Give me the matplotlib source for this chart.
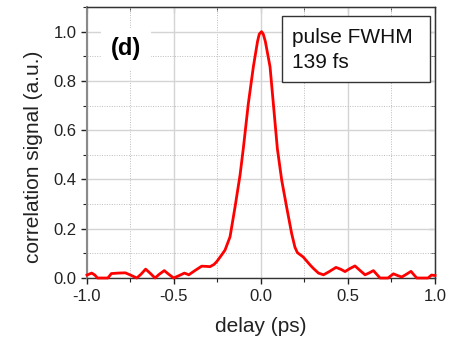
import matplotlib
matplotlib.use('Agg')
import matplotlib.pyplot as plt
from matplotlib.patches import Rectangle
from matplotlib.ticker import MultipleLocator

plt.rcParams['font.family'] = ['Liberation Sans', 'DejaVu Sans']

# autocorrelation trace, delay in ps
delay = [-1.0, -0.973, -0.955, -0.94, -0.88, -0.86, -0.82, -0.78, -0.75, -0.714,
         -0.69, -0.663, -0.635, -0.609, -0.585, -0.556, -0.53, -0.502, -0.47, -0.44,
         -0.415, -0.38, -0.341, -0.31, -0.293, -0.27, -0.255, -0.236, -0.207, -0.178,
         -0.149, -0.12, -0.101, -0.073, -0.044, -0.02, -0.01, 0.003, 0.013, 0.025,
         0.052, 0.071, 0.094, 0.119, 0.147, 0.176, 0.195, 0.209, 0.243, 0.282,
         0.301, 0.33, 0.359, 0.39, 0.431, 0.46, 0.483, 0.51, 0.54, 0.57,
         0.598, 0.62, 0.646, 0.665, 0.684, 0.73, 0.761, 0.785, 0.809, 0.835,
         0.862, 0.88, 0.895, 0.96, 0.98, 1.0]
signal = [0.012, 0.02, 0.012, 0.0, 0.0, 0.018, 0.02, 0.021, 0.012, 0.0,
          0.015, 0.036, 0.018, 0.0, 0.015, 0.03, 0.015, 0.0, 0.01, 0.02,
          0.013, 0.03, 0.048, 0.047, 0.046, 0.055, 0.066, 0.084, 0.113, 0.167,
          0.289, 0.42, 0.53, 0.707, 0.857, 0.96, 0.99, 1.0, 0.99, 0.96,
          0.857, 0.707, 0.525, 0.397, 0.289, 0.181, 0.125, 0.103, 0.085, 0.053,
          0.039, 0.02, 0.013, 0.025, 0.043, 0.035, 0.026, 0.038, 0.049, 0.03,
          0.013, 0.02, 0.03, 0.015, 0.0, 0.0, 0.017, 0.01, 0.004, 0.015,
          0.027, 0.012, 0.0, 0.0, 0.012, 0.01]

W, H = 452, 338
fig = plt.figure(figsize=(W / 100, H / 100), dpi=100)
ax = fig.add_axes([87 / W, 60 / H, 348 / W, 271 / H])

ax.plot(delay, signal, color='red', lw=2.0, clip_on=False, zorder=3,
        solid_joinstyle='round')

ax.set_xlim(-1.0, 1.0)
ax.set_ylim(0, 1.1)
ax.xaxis.set_minor_locator(MultipleLocator(0.25))
ax.yaxis.set_minor_locator(MultipleLocator(0.1))
ax.set_xticks([-1.0, -0.5, 0.0, 0.5, 1.0])
ax.set_xticklabels(['-1.0', '-0.5', '0.0', '0.5', '1.0'])
ax.set_yticks([0.0, 0.2, 0.4, 0.6, 0.8, 1.0])
ax.set_yticklabels(['0.0', '0.2', '0.4', '0.6', '0.8', '1.0'])

ax.grid(which='major', color='#d4d4d4', lw=1.0, ls='-')
ax.grid(which='minor', color='#bcbcbc', lw=0.7, ls=(0, (1, 1.5)))
ax.set_axisbelow(True)

ax.tick_params(which='both', direction='out', labelsize=12, colors='#222222')
ax.tick_params(which='major', length=4, width=1)
ax.tick_params(which='minor', length=3, width=0.8)
ax.tick_params(axis='x', pad=4)

# inward ticks on the top and right sides
top = ax.secondary_xaxis('top')
top.xaxis.set_major_locator(MultipleLocator(0.5))
top.xaxis.set_minor_locator(MultipleLocator(0.25))
top.tick_params(which='both', direction='in', labeltop=False, colors='#333333')
top.tick_params(which='major', length=4)
top.tick_params(which='minor', length=3)
right = ax.secondary_yaxis('right')
right.yaxis.set_major_locator(MultipleLocator(0.2))
right.yaxis.set_minor_locator(MultipleLocator(0.1))
right.tick_params(which='both', direction='in', labelright=False, colors='#333333')
right.tick_params(which='major', length=4)
right.tick_params(which='minor', length=3)

for side in ['top', 'right', 'bottom']:
    ax.spines[side].set_color('#333333')
    ax.spines[side].set_linewidth(1.0)
ax.spines['left'].set_color('#8a8a8a')
ax.spines['left'].set_linewidth(1.5)

# axis titles, placed in figure pixels from the top-left corner
fig.text(261 / W, 1 - 326 / H, 'delay (ps)', fontsize=15, color='#222222',
         ha='center', va='center')
fig.text(34 / W, 1 - 157 / H, 'correlation signal (a.u.)', fontsize=15,
         color='#222222', rotation=90, ha='center', va='center')

fig.text(126 / W, 1 - 49 / H, '(d)', fontsize=17, fontweight='bold',
         ha='center', va='center', zorder=4,
         bbox=dict(facecolor='white', edgecolor='none', pad=7))

box = Rectangle((282 / W, 1 - 82 / H), 148 / W, 66 / H, transform=fig.transFigure,
                facecolor='white', edgecolor='#333333', lw=1.0, zorder=5)
fig.patches.append(box)
fig.text(292 / W, 1 - 50 / H, 'pulse FWHM\n139 fs', fontsize=15, color='#111111',
         ha='left', va='center', linespacing=1.4, zorder=6)

fig.savefig('out.png', dpi=100)
